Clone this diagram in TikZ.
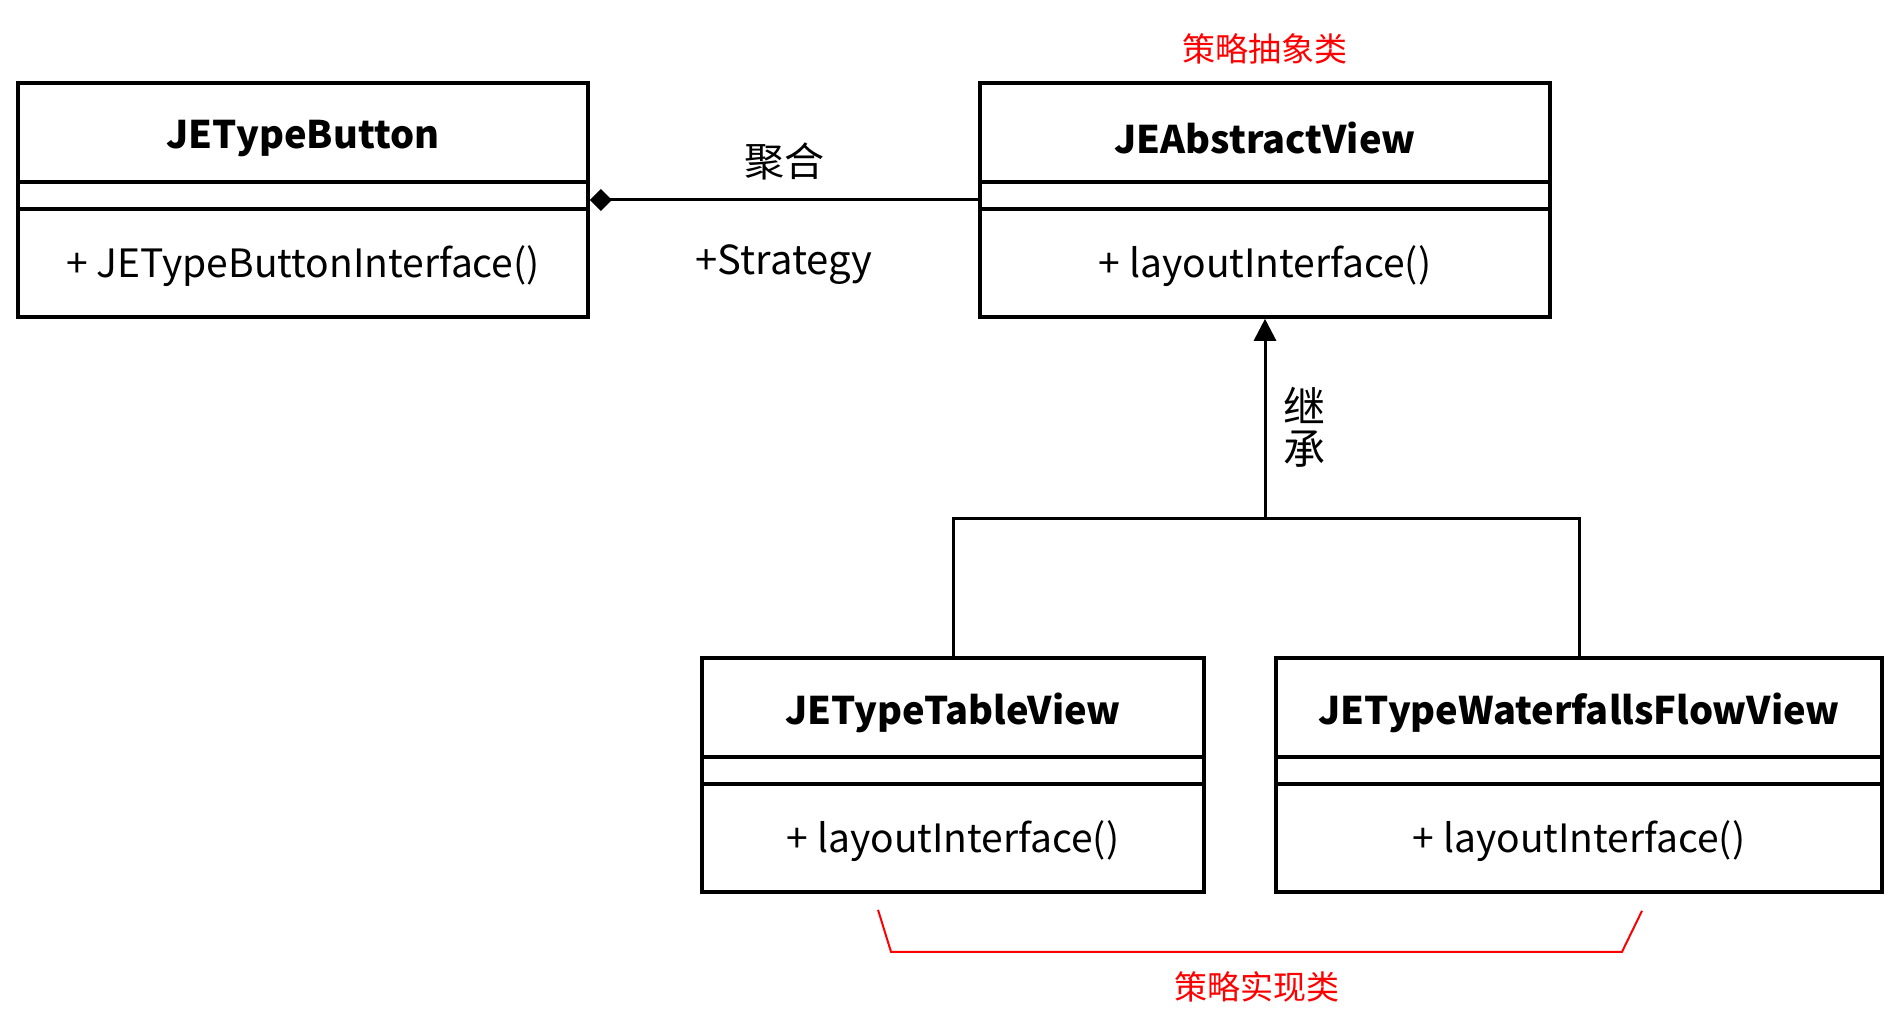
\documentclass[tikz,border=0pt]{standalone}
\usepackage{fontspec}
\setmainfont{Noto Sans CJK SC}
\usepackage{tikz}
\usetikzlibrary{positioning}
\usetikzlibrary{calc,arrows.meta}
\tikzstyle{classbox}=[rectangle,draw,line width=1.8pt,minimum height=117pt,inner sep=0pt]
\tikzstyle{classline}=[draw,line width=1.8pt]
\tikzstyle{classtitle}=[font=\fontsize{19pt}{19pt}\selectfont\bfseries]
\tikzstyle{classmethod}=[font=\fontsize{19.5pt}{20pt}\selectfont]
\tikzstyle{edge}=[draw,line width=1.5pt]
\tikzstyle{weight}=[font=\fontsize{20pt}{21pt}\selectfont]
\tikzset{redtag/.style={text=red,font=\fontsize{16.5pt}{17pt}\selectfont}}

\begin{document}
\begin{tikzpicture}[x=0.5pt,y=-0.5pt]
    \useasboundingbox (0,0) rectangle (1888,1016);
    % First we draw the classes
    \foreach \pos/\name/\boxw/\title/\method in {{(303,200)/btn/570/JETypeButton/+ JETypeButtonInterface()},
    {(1265,200)/absview/570/JEAbstractView/+ layoutInterface()},
    {(953,775)/tableview/502/JETypeTableView/+ layoutInterface()},
    {(1579,775)/flowview/606/JETypeWaterfallsFlowView/+ layoutInterface()}}
    {
        \node[classbox,minimum width=\boxw*0.5pt] (\name) at \pos {};
        \node[classtitle] at ($(\name.north)+(0,57)$) {\title};
        \path[classline] ($(\name.north west)+(0,101)$) -- ($(\name.north east)+(0,101)$);
        \path[classline] ($(\name.north west)+(0,128)$) -- ($(\name.north east)+(0,128)$);
        \node[classmethod] at ($(\name.north)+(0,185)$) {\method};
    }

    % Aggregation
    \path[edge,{Diamond[length=11pt,width=11pt]}-] (btn.east) --
        node[weight,above=6pt] {聚合} node[weight,below=18pt] {+Strategy} (absview.west);

    % Inheritance
    \coordinate (junction) at ($(absview.south)+(0,200)$);
    \path[edge] (tableview.north) |- (junction) -| (flowview.north);
    \path[edge,-{Triangle[length=11pt,width=11pt]}] (junction) --
        node[weight,pos=0.46,right=5pt,align=center,font=\fontsize{21pt}{21pt}\selectfont] {继\\承} (absview.south);

    % Red notes
    \node[redtag,above=5pt of absview] (abstag) {策略抽象类};
    \coordinate (bl) at ($(tableview.south)+(-75,16)$);
    \coordinate (br) at ($(flowview.south)+(63,17)$);
    \draw[red,line width=1pt] (bl) -- ($(bl)+(13,42)$) -- node[redtag,below=6pt] (impltag) {策略实现类} ($(br)+(-20,41)$) -- (br);
\end{tikzpicture}
\end{document}
